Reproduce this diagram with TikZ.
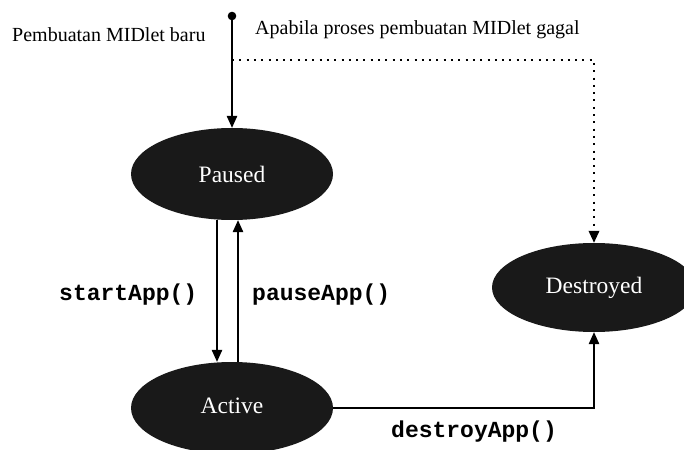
\documentclass[tikz,border=0pt]{standalone}
\usepackage{fontspec}
\setmainfont{Liberation Serif}
\setmonofont{Liberation Mono}
\usetikzlibrary{arrows.meta,shapes.geometric}
\begin{document}
\begin{tikzpicture}[x=1pt,y=-1pt,
  state/.style={ellipse, fill=black!90, draw=none, text=white, inner sep=0pt,
    font=\fontsize{23.5}{28}\selectfont},
  conn/.style={line width=1.2pt, -{Triangle[length=12pt,width=10.5pt]}},
  dotconn/.style={line width=2pt, dash pattern=on 2pt off 5.3pt,
    -{Triangle[length=12pt,width=10.5pt]}},
  code/.style={font=\fontsize{23}{27}\selectfont\ttfamily\bfseries, anchor=base west, inner sep=0pt},
  note/.style={font=\fontsize{20}{24}\selectfont, anchor=base west, inner sep=0pt}]
\useasboundingbox (0,0) rectangle (684,449);
\clip (0,0) rectangle (684,449);
\fill[white] (0,0) rectangle (684,449);

\node[state, minimum width=202pt, minimum height=92pt] (paused) at (232,174) {Paused};
\node[state, minimum width=202pt, minimum height=92pt, text height=16pt, text depth=6pt] (active) at (232,408) {Active};
\node[state, minimum width=204pt, minimum height=89pt] (destroyed) at (594,287.5) {Destroyed};

\node[circle, fill=black, inner sep=0pt, minimum size=8.6pt] (start) at (232,16) {};
\coordinate (junction) at (232,60);

\draw[conn] (start) -- (paused);
\draw[dotconn] (junction) -| (destroyed);
\draw[conn] ([xshift=-15pt]paused.south) -- ([xshift=-15pt]active.north);
\draw[conn] ([xshift=6pt]active.north) -- ([xshift=6pt]paused.south);
\draw[conn] (active) -| (destroyed);

\node[note] (lblnew) at (12,42) {Pembuatan MIDlet baru};
\node[note] (lblfail) at (255,35) {Apabila proses pembuatan MIDlet gagal};
\node[code] (lblstart) at (59,300) {startApp()};
\node[code] (lblpause) at (252,300) {pauseApp()};
\node[code] (lbldestroy) at (391,437) {destroyApp()};
\end{tikzpicture}
\end{document}
